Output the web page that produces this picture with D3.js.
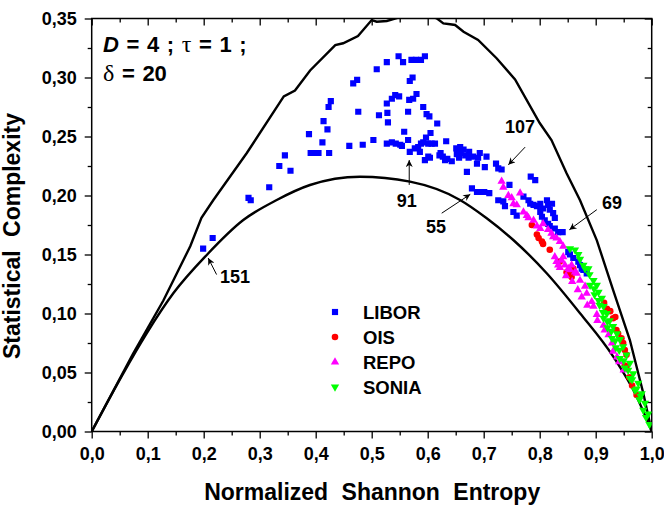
<!DOCTYPE html>
<html lang='en'>
<head>
<meta charset='utf-8'>
<title>Complexity-entropy plane</title>
<script src='https://cdn.jsdelivr.net/npm/d3@7'></script>
<style>
  body { margin: 0; background: #fff; }
  text { font-family: 'Liberation Sans', Arial, sans-serif; font-weight: bold; fill: #000; }
  .curve { fill: none; stroke: #000; stroke-width: 2.4px; }
  .tick line { stroke: #000; stroke-width: 1.3px; }
  .greek { font-family: 'Liberation Serif', serif; font-weight: normal; font-size: 24px; }
</style>
</head>
<body>
<script>
// bounds of the plane
var cmax = [[0,0],[0.074,0.066],[0.128,0.111],[0.176,0.157],[0.196,0.181],[0.217,0.196],[0.277,0.236],
  [0.343,0.284],[0.363,0.289],[0.390,0.306],[0.435,0.3275],[0.449,0.329],[0.4755,0.3352],[0.500,0.3487],
  [0.509,0.3473],[0.527,0.3479],[0.5475,0.3507],[0.580,0.357],[0.616,0.3502],[0.628,0.3459],[0.640,0.3451],
  [0.649,0.3445],[0.664,0.3388],[0.690,0.3318],[0.723,0.3163],[0.756,0.2983],[0.800,0.2614],[0.821,0.247],
  [0.848,0.2188],[0.872,0.196],[0.902,0.162],[0.931,0.120],[0.961,0.0775],[0.985,0.0324],[1,0]];
var cmin = [[0,0],[0.0564,0.0493],[0.0982,0.0832],[0.1457,0.1171],[0.2054,0.1496],[0.2707,0.1792],
  [0.3304,0.1962],[0.3898,0.2089],[0.4791,0.2159],[0.5684,0.2117],[0.6577,0.1962],[0.7054,0.1807],
  [0.7529,0.1623],[0.8125,0.1341],[0.872,0.1002],[0.9314,0.0634],[0.9732,0.0295],[1,0]];

var libor = [[0.199,0.155],[0.216,0.164],[0.280,0.198],[0.284,0.196],[0.317,0.207],[0.335,0.225],[0.345,0.234],[0.355,0.221],
  [0.388,0.252],[0.391,0.236],[0.400,0.236],[0.405,0.236],[0.412,0.245],[0.424,0.236],[0.414,0.263],[0.421,0.256],
  [0.423,0.275],[0.427,0.280],[0.460,0.242],[0.467,0.295],[0.474,0.298],[0.476,0.271],[0.484,0.243],[0.503,0.247],
  [0.509,0.307],[0.513,0.268],[0.527,0.313],[0.527,0.278],[0.536,0.282],[0.542,0.285],[0.549,0.284],[0.528,0.270],
  [0.529,0.262],[0.527,0.244],[0.536,0.245],[0.543,0.244],[0.551,0.243],[0.548,0.318],[0.556,0.313],[0.558,0.254],
  [0.565,0.271],[0.565,0.247],[0.567,0.281],[0.574,0.282],[0.580,0.286],[0.568,0.237],[0.568,0.297],[0.573,0.300],
  [0.571,0.315],[0.579,0.315],[0.588,0.315],[0.595,0.318],[0.577,0.240],[0.583,0.241],[0.588,0.244],[0.592,0.245],
  [0.601,0.244],[0.607,0.244],[0.613,0.244],[0.586,0.237],[0.595,0.230],[0.601,0.233],[0.604,0.232],[0.592,0.275],
  [0.598,0.269],[0.603,0.267],[0.597,0.249],[0.605,0.253],[0.617,0.261],[0.621,0.234],[0.554,0.242],
  [0.623,0.236],[0.627,0.233],[0.631,0.230],[0.633,0.246],[0.635,0.231],[0.643,0.229],[0.651,0.240],[0.658,0.241],
  [0.664,0.239],[0.652,0.235],[0.659,0.236],[0.667,0.234],[0.674,0.237],[0.681,0.233],[0.690,0.232],[0.693,0.236],
  [0.705,0.233],[0.656,0.232],[0.673,0.232],[0.688,0.227],[0.702,0.224],[0.670,0.220],[0.679,0.206],[0.688,0.203],
  [0.695,0.203],[0.701,0.203],[0.710,0.202],[0.722,0.227],[0.726,0.223],[0.732,0.222],[0.726,0.196],[0.735,0.195],
  [0.738,0.191],[0.746,0.209],[0.784,0.216],[0.792,0.213],[0.753,0.186],[0.759,0.183],[0.771,0.199],[0.780,0.196],
  [0.783,0.193],[0.789,0.192],[0.795,0.191],[0.801,0.193],[0.806,0.189],[0.813,0.196],[0.815,0.192],[0.818,0.188],
  [0.824,0.185],[0.827,0.181],[0.801,0.186],[0.804,0.182],[0.809,0.179],[0.815,0.176],[0.818,0.174],[0.827,0.172],
  [0.833,0.169],[0.841,0.169],[0.851,0.152],[0.854,0.150],[0.860,0.147],[0.869,0.144],[0.875,0.138],[0.884,0.134],
  [0.822,0.193],[0.872,0.141],[0.878,0.137]];

var ois = [[0.786,0.175],[0.795,0.167],[0.798,0.164],[0.804,0.161],[0.806,0.159],[0.818,0.154],[0.836,0.144],[0.848,0.135],
  [0.857,0.135],[0.854,0.134],[0.857,0.131],[0.860,0.138],[0.851,0.133],[0.915,0.109],[0.920,0.104],[0.926,0.102],
  [0.931,0.096],[0.935,0.097],[0.937,0.086],[0.940,0.083],[0.946,0.079],[0.949,0.075],[0.952,0.069],
  [0.955,0.065],[0.952,0.056],[0.955,0.055],[0.960,0.046],[0.965,0.039],[0.973,0.031]];

var repo = [[0.732,0.212],[0.735,0.207],[0.744,0.200],[0.750,0.198],[0.765,0.202],[0.753,0.193],[0.759,0.192],[0.771,0.186],
  [0.777,0.183],[0.780,0.181],[0.789,0.179],[0.795,0.174],[0.801,0.172],[0.806,0.176],[0.815,0.171],[0.821,0.168],
  [0.824,0.165],[0.830,0.164],[0.836,0.161],[0.842,0.157],[0.827,0.148],[0.830,0.144],[0.839,0.145],[0.845,0.141],
  [0.851,0.138],[0.857,0.141],[0.863,0.135],[0.842,0.148],[0.854,0.137],[0.866,0.134],[0.872,0.128],[0.881,0.123],
  [0.884,0.117],[0.893,0.110],[0.896,0.106],[0.902,0.099],[0.914,0.090],[0.923,0.082],[0.929,0.075],[0.931,0.068],
  [0.938,0.063],[0.942,0.059],[0.950,0.052],[0.833,0.141],[0.836,0.139],[0.847,0.132],[0.858,0.127],[0.868,0.120],
  [0.875,0.114],[0.885,0.107],[0.903,0.094],[0.916,0.086]];

var sonia = [[0.854,0.155],[0.863,0.154],[0.869,0.150],[0.872,0.146],[0.878,0.141],[0.887,0.138],[0.881,0.138],[0.889,0.133],
  [0.896,0.128],[0.902,0.124],[0.905,0.118],[0.911,0.113],[0.914,0.106],[0.920,0.100],[0.925,0.094],[0.931,0.089],
  [0.938,0.083],[0.943,0.078],[0.949,0.072],[0.955,0.065],[0.961,0.058],[0.967,0.049],[0.976,0.041],[0.982,0.032],
  [0.988,0.024],[0.994,0.015],[0.890,0.124],[0.898,0.116],[0.907,0.107],[0.914,0.096],[0.921,0.088],[0.929,0.079],
  [0.936,0.071],[0.943,0.062],[0.952,0.054],[0.961,0.045],[0.970,0.035],[0.978,0.027],[0.985,0.018],
  [0.897,0.121],[0.905,0.111],[0.913,0.101],[0.921,0.093],[0.928,0.085],[0.935,0.077],[0.942,0.069],[0.950,0.060],
  [0.958,0.052],[0.965,0.044],[0.973,0.036],[0.980,0.030],[0.990,0.012],[0.996,0.006]];

var xTicks = [0,0.1,0.2,0.3,0.4,0.5,0.6,0.7,0.8,0.9,1.0];
var yTicks = [0,0.05,0.10,0.15,0.20,0.25,0.30,0.35];

var annotations = [
  {label: '107', at: [0.765, 0.253], from: [0.774, 0.241], to: [0.744, 0.226]},
  {label: '91',  at: [0.5625, 0.190], from: [0.567, 0.209], to: [0.567, 0.230]},
  {label: '55',  at: [0.615, 0.168], from: [0.625, 0.185], to: [0.676, 0.201]},
  {label: '69',  at: [0.929, 0.1886], from: [0.902, 0.188], to: [0.853, 0.171]},
  {label: '151', at: [0.256, 0.126], from: [0.223, 0.133], to: [0.208, 0.147]}
];

var series = [
  {name: 'LIBOR', data: libor, color: '#0000ff', shape: d3.symbolSquare, size: 38, rot: 0},
  {name: 'OIS',   data: ois,   color: '#ff0000', shape: d3.symbolCircle, size: 34, rot: 0},
  {name: 'REPO',  data: repo,  color: '#ff00ff', shape: d3.symbolTriangle, size: 30, rot: 0},
  {name: 'SONIA', data: sonia, color: '#00ff00', shape: d3.symbolTriangle, size: 30, rot: 180}
];

var width = 664, height = 507;
var pL = 91.7, pR = 651.7, pT = 18.5, pB = 431.5;

var x = d3.scaleLinear().domain([0, 1]).range([pL, pR]);
var y = d3.scaleLinear().domain([0, 0.35]).range([pB, pT]);

var svg = d3.select('body').append('svg')
  .attr('width', width).attr('height', height);

var defs = svg.append('defs');
defs.append('clipPath').attr('id', 'plot')
  .append('rect').attr('x', pL).attr('y', pT)
  .attr('width', pR - pL).attr('height', pB - pT);

defs.append('marker')
  .attr('id', 'head').attr('viewBox', '0 0 10 10')
  .attr('refX', 10).attr('refY', 5)
  .attr('markerWidth', 9).attr('markerHeight', 7)
  .attr('markerUnits', 'userSpaceOnUse')
  .attr('orient', 'auto')
  .append('path').attr('d', 'M0,0L10,5L0,10L3,5Z').attr('fill', '#000');

var comma = function(f) { return function(d) { return d3.format(f)(d).replace('.', ','); }; };
var minorX = d3.range(0, 21).map(function(i) { return i * 0.05; }).filter(function(d, i) { return i % 2; });
var minorY = d3.range(0, 15).map(function(i) { return i * 0.025; }).filter(function(d, i) { return i % 2; });

function axisGroup(axis, tr) {
  var g = svg.append('g').attr('transform', tr).call(axis);
  g.select('.domain').remove();
  return g;
}

// bottom / left: outward ticks with labels
axisGroup(d3.axisBottom(x).tickValues(xTicks).tickFormat(comma('.1f')).tickSize(7).tickPadding(8.5),
  'translate(0,' + pB + ')');
axisGroup(d3.axisBottom(x).tickValues(minorX).tickFormat('').tickSize(4), 'translate(0,' + pB + ')');
axisGroup(d3.axisLeft(y).tickValues(yTicks).tickFormat(comma('.2f')).tickSize(7).tickPadding(8),
  'translate(' + pL + ',0)');
axisGroup(d3.axisLeft(y).tickValues(minorY).tickFormat('').tickSize(4), 'translate(' + pL + ',0)');

// top / right: inward ticks, no labels
axisGroup(d3.axisTop(x).tickValues(xTicks).tickFormat('').tickSize(-7), 'translate(0,' + pT + ')');
axisGroup(d3.axisTop(x).tickValues(minorX).tickFormat('').tickSize(-4), 'translate(0,' + pT + ')');
axisGroup(d3.axisRight(y).tickValues(yTicks).tickFormat('').tickSize(-7), 'translate(' + pR + ',0)');
axisGroup(d3.axisRight(y).tickValues(minorY).tickFormat('').tickSize(-4), 'translate(' + pR + ',0)');

svg.selectAll('.tick text')
  .style('font-family', "'Liberation Sans', Arial, sans-serif")
  .style('font-weight', 'bold').style('font-size', '18px').attr('fill', '#000');

svg.append('rect')
  .attr('x', pL).attr('y', pT)
  .attr('width', pR - pL).attr('height', pB - pT)
  .attr('fill', 'none').attr('stroke', '#000').attr('stroke-width', 1.5);

var plot = svg.append('g').attr('clip-path', 'url(#plot)');

var line = d3.line().x(function(d) { return x(d[0]); }).y(function(d) { return y(d[1]); });
plot.append('path').attr('class', 'curve').attr('d', line(cmax));
plot.append('path').attr('class', 'curve').attr('d', line.curve(d3.curveMonotoneX)(cmin));

series.forEach(function(s) {
  var sym = d3.symbol().type(s.shape).size(s.size);
  plot.append('g').selectAll('path')
    .data(s.data)
    .enter().append('path')
      .attr('d', sym)
      .attr('fill', s.color)
      .attr('transform', function(d) {
        return 'translate(' + x(d[0]) + ',' + y(d[1]) + ')' + (s.rot ? ' rotate(' + s.rot + ')' : '');
      });
});

// arrows with labels
annotations.forEach(function(a) {
  svg.append('line')
    .attr('x1', x(a.from[0])).attr('y1', y(a.from[1]))
    .attr('x2', x(a.to[0])).attr('y2', y(a.to[1]))
    .attr('stroke', '#000').attr('stroke-width', 1)
    .attr('marker-end', 'url(#head)');
  svg.append('text')
    .attr('x', x(a.at[0])).attr('y', y(a.at[1]))
    .attr('text-anchor', 'middle').style('font-size', '18px')
    .text(a.label);
});

// legend
var legend = svg.append('g').attr('transform', 'translate(335,312)');
series.forEach(function(s, i) {
  var sym = d3.symbol().type(s.shape).size(s.size);
  legend.append('path').attr('d', sym).attr('fill', s.color)
    .attr('transform', 'translate(0,' + (i * 25) + ')' + (s.rot ? ' rotate(' + s.rot + ')' : ''));
  legend.append('text').attr('x', 28).attr('y', i * 25).attr('dy', '0.36em')
    .style('font-size', '18.5px').text(s.name);
});

// parameters
var t1 = svg.append('text').attr('x', 103).attr('y', 51.5)
  .style('font-size', '22px').style('word-spacing', '1.5px').style('white-space', 'pre');
t1.append('tspan').style('font-style', 'italic').text('D');
t1.append('tspan').text(' = 4 ; ');
t1.append('tspan').attr('class', 'greek').text('τ');
t1.append('tspan').text(' = 1 ;');
var t2 = svg.append('text').attr('x', 103).attr('y', 81)
  .style('font-size', '22px').style('word-spacing', '1.5px').style('white-space', 'pre');
t2.append('tspan').attr('class', 'greek').text('δ');
t2.append('tspan').text(' = 20');

// axis titles
svg.append('text')
  .attr('x', (pL + pR) / 2 + 0.5).attr('y', 500)
  .attr('text-anchor', 'middle').style('font-size', '23px').style('word-spacing', '7px')
  .text('Normalized Shannon Entropy');
svg.append('text')
  .attr('transform', 'translate(19.5,236) rotate(-90)')
  .attr('text-anchor', 'middle').style('font-size', '23px').style('word-spacing', '7px')
  .text('Statistical Complexity');
</script>
</body>
</html>
